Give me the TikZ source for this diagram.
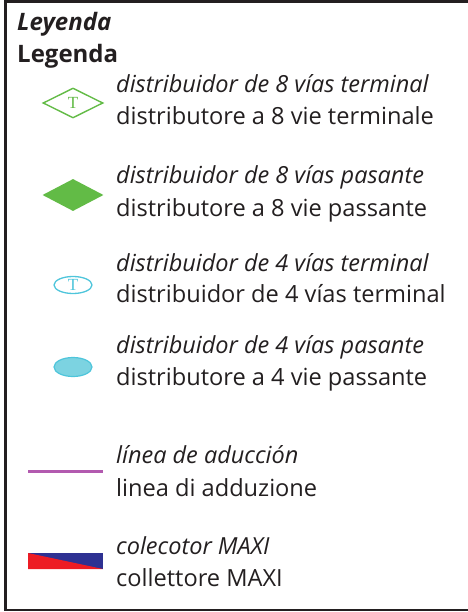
\documentclass[tikz,border=0pt]{standalone}
\usepackage{fontspec}
\setmainfont{Open Sans}
\newfontfamily\serifT{Liberation Serif}
\usetikzlibrary{shapes.geometric,positioning}

\definecolor{framegray}{HTML}{231F20}
\definecolor{verde}{HTML}{62BB46}
\definecolor{ciano}{HTML}{4EC5DB}
\definecolor{cianofill}{HTML}{7CD3E1}
\definecolor{viola}{HTML}{B25AAF}
\definecolor{blu}{HTML}{2E3192}
\definecolor{rosso}{HTML}{ED1C24}

\tikzset{
  titolo/.style={anchor=base west, inner sep=0pt, text=framegray, font=\fontsize{24}{26}\selectfont\bfseries},
  voce es/.style={anchor=base west, inner sep=0pt, text=framegray, font=\fontsize{23.5}{26}\selectfont\itshape},
  voce it/.style={anchor=base west, inner sep=0pt, text=framegray, font=\fontsize{23.6}{26}\selectfont},
  simbolo T/.style={inner sep=0pt, font=\fontsize{17}{17}\selectfont\serifT},
}

\begin{document}
\begin{tikzpicture}[x=1pt,y=-1pt]
\useasboundingbox (0,0) rectangle (467,612);

% cornice
\draw[framegray, line width=2.8pt] (5.5,1.2) rectangle (475,610);

\node[titolo, font=\fontsize{24}{26}\selectfont\bfseries\itshape] (titoloes) at (17,31) {Leyenda};
\node[titolo] (titoloit) at (17,63) {Legenda};

% distribuidor 8 vias terminal
\node[diamond, draw=verde, line width=1.4pt, minimum width=60pt, minimum height=30pt, simbolo T, text=verde] (d8t) at (73,103) {T};
\node[voce es] (d8tes) at (116,93) {distribuidor de 8 vías terminal};
\node[voce it] (d8tit) at (116,125) {distributore a 8 vie terminale};

% distribuidor 8 vias pasante
\node[diamond, fill=verde, minimum width=61pt, minimum height=32pt, inner sep=0pt] (d8p) at (73,195) {};
\node[voce es] (d8pes) at (116,184) {distribuidor de 8 vías pasante};
\node[voce it] (d8pit) at (116,216) {distributore a 8 vie passante};

% distribuidor 4 vias terminal
\node[ellipse, draw=ciano, line width=1.3pt, minimum width=38pt, minimum height=17pt, simbolo T, text=ciano] (d4t) at (73,285) {T};
\node[voce es] (d4tes) at (116,271) {distribuidor de 4 vías terminal};
\node[voce it] (d4tit) at (116,302) {distribuidor de 4 vías terminal};

% distribuidor 4 vias pasante
\node[ellipse, draw=ciano, fill=cianofill, line width=1.2pt, minimum width=38pt, minimum height=19pt, inner sep=0pt] (d4p) at (73,367) {};
\node[voce es] (d4pes) at (116,353) {distribuidor de 4 vías pasante};
\node[voce it] (d4pit) at (116,385) {distributore a 4 vie passante};

% linea de aduccion
\coordinate (lina) at (28,471);
\coordinate (linb) at (103,471);
\draw[viola, line width=3pt] (lina) -- (linb);
\node[voce es] (lines) at (116,463) {línea de aducción};
\node[voce it] (linit) at (116,496) {linea di adduzione};

% colector MAXI
\coordinate (maxa) at (28,553);
\coordinate (maxb) at (103,569);
\fill[blu] (maxa) rectangle (maxb);
\fill[rosso] (maxa) -- (maxb) -- (maxa |- maxb) -- cycle;
\node[voce es] (maxes) at (116,554) {colecotor MAXI};
\node[voce it] (maxit) at (116,586) {collettore MAXI};

\end{tikzpicture}
\end{document}
